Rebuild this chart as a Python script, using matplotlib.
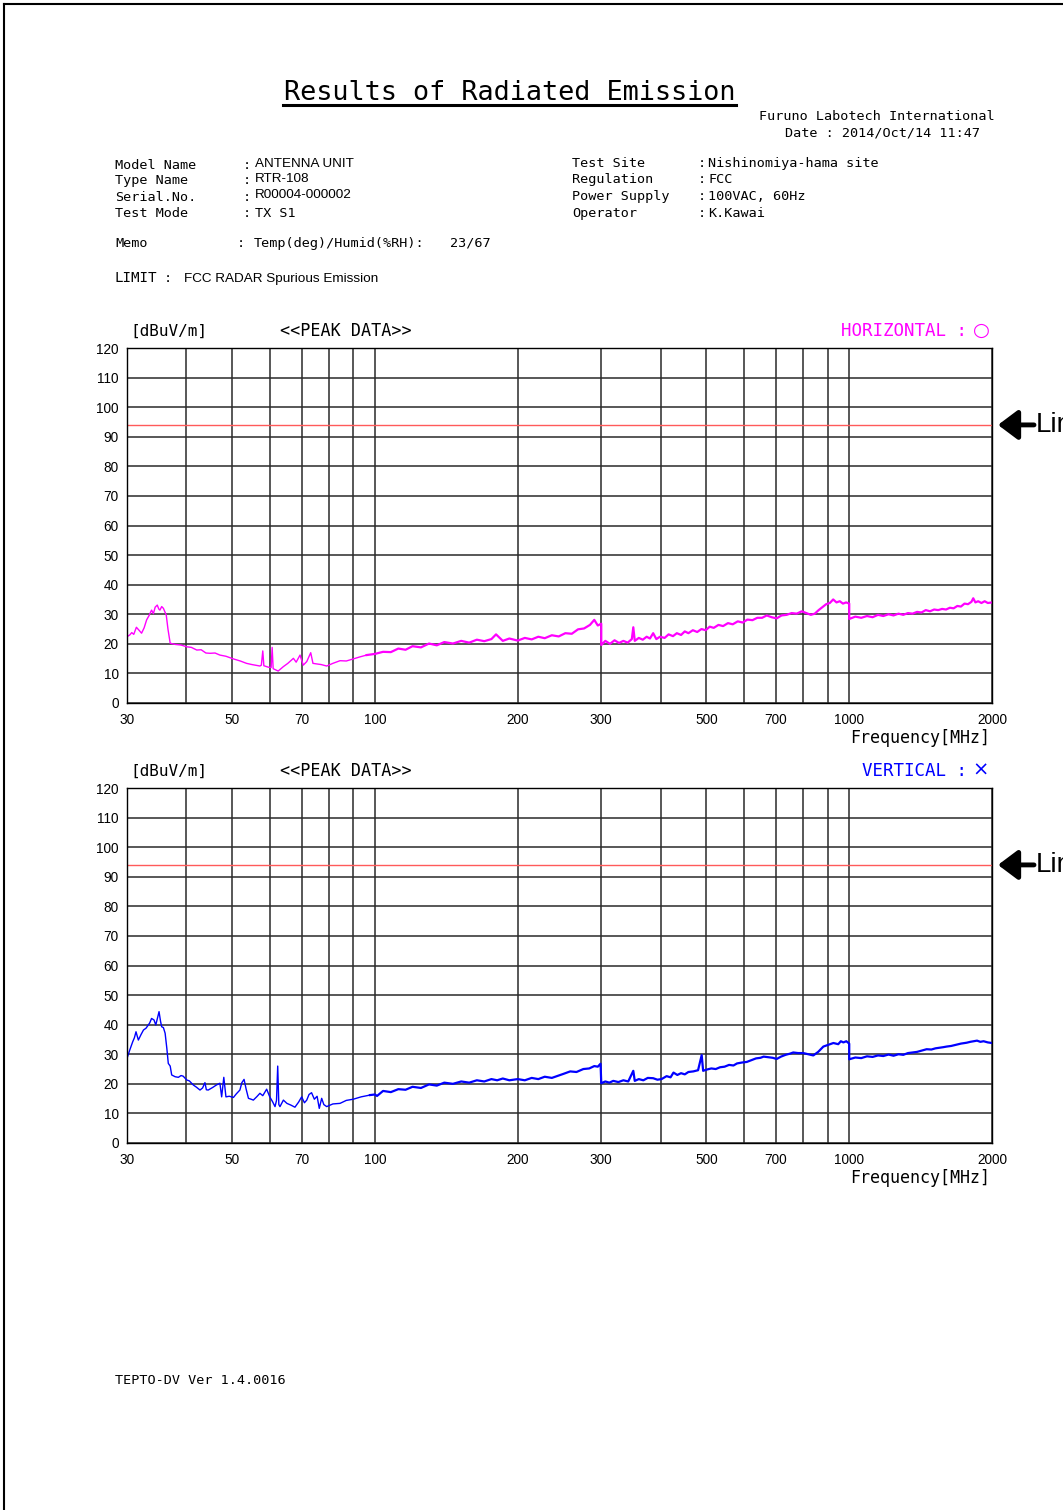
"""
Radiated emission report page: header block plus horizontal / vertical
peak scans against the FCC radar spurious emission limit.
"""

import matplotlib
matplotlib.use("Agg")
import matplotlib.pyplot as plt
from matplotlib.lines import Line2D
from matplotlib.ticker import NullFormatter

W, H = 1063, 1510

# Horizontal polarisation peak trace (MHz, dBuV/m)
h_freq = [
    30.0, 30.4, 30.7, 31.0, 31.4, 31.8, 32.2, 32.6, 33.0, 33.4, 33.8, 34.1,
    34.4, 34.75, 35.0, 35.2, 35.5, 35.8, 36.3, 36.6, 37.0, 37.9, 39.0, 40.1,
    41.0, 42.1, 43.0, 44.0, 44.9, 46.0, 47.1, 48.5, 50.3, 52.0, 53.6, 55.0,
    57.2, 57.6, 58.0, 58.3, 59.6, 60.4, 60.7, 61.0, 62.5, 64.1, 65.5, 67.3,
    68.2, 69.5, 70.6, 71.8, 73.2, 74.0, 75.4, 77.0, 79.1, 81.5, 84.4, 87.0,
    90.0, 93.0, 96.0,
    100, 104, 108, 112, 116, 120, 125, 130, 135, 140, 146, 152, 158, 164,
    170, 176, 180, 186, 192, 200, 207, 214, 221, 228, 236, 244, 252, 260,
    268, 276, 284, 290, 295, 300,
    300, 306, 313, 320, 327, 334, 341, 348, 350.5, 353, 360, 367, 374, 380,
    386, 392, 399, 408, 416, 425, 433, 442, 450, 458, 468, 478, 488, 498,
    508, 518, 530, 542, 555, 568, 582, 596, 610, 625, 640, 655, 670, 686,
    703, 720, 738, 756, 775, 794, 812, 830, 846, 862, 878, 894, 910, 925,
    940, 955, 970, 985, 1000,
    1000, 1030, 1060, 1090, 1120, 1150, 1180, 1210, 1240, 1270, 1300, 1330,
    1360, 1390, 1420, 1450, 1480, 1510, 1540, 1570, 1600, 1630, 1660, 1690,
    1720, 1750, 1780, 1810, 1826, 1845, 1870, 1900, 1930, 1960, 2000,
]
h_level = [
    22.4, 23.0, 23.8, 23.2, 25.6, 24.6, 23.6, 25.4, 28.1, 29.6, 31.4, 30.2,
    32.4, 33.1, 31.8, 31.4, 32.6, 32.0, 29.7, 25.0, 20.2, 19.8, 19.6, 19.0,
    18.8, 17.9, 18.0, 16.9, 16.8, 16.9, 16.2, 15.8, 14.9, 14.2, 13.4, 13.0,
    12.5, 12.8, 17.6, 12.6, 12.1, 12.0, 18.8, 11.6, 10.8, 12.3, 13.4, 15.1,
    13.8, 16.2, 12.8, 14.0, 17.0, 13.4, 13.2, 13.0, 12.5, 13.4, 14.3, 14.2,
    14.9, 15.6, 16.2,
    16.6, 17.3, 17.2, 18.4, 18.0, 19.2, 18.8, 20.1, 19.5, 20.6, 20.1, 21.0,
    20.4, 21.4, 20.9, 21.6, 23.2, 21.0, 21.8, 21.1, 22.0, 21.5, 22.4, 21.9,
    22.9, 22.5, 23.6, 23.4, 24.9, 25.2, 26.4, 28.1, 26.2, 26.8,
    19.6, 21.0, 20.0, 21.2, 20.3, 21.0, 20.4, 21.6, 25.6, 21.0, 22.0, 21.4,
    22.4, 21.8, 23.6, 21.6, 22.4, 22.0, 23.2, 22.6, 23.6, 23.0, 24.2, 23.6,
    24.6, 24.0, 25.0, 24.6, 25.8, 25.4, 26.4, 26.0, 27.0, 26.6, 27.6, 27.2,
    28.2, 28.0, 28.8, 28.8, 29.6, 29.0, 28.6, 29.6, 29.8, 30.4, 30.2, 31.0,
    30.4, 29.8, 30.2, 31.4, 32.4, 33.4, 33.8, 35.0, 34.0, 34.4, 33.6, 34.0,
    33.6,
    28.4, 29.2, 28.8, 29.4, 29.0, 29.8, 29.4, 30.0, 29.6, 30.2, 29.8, 30.4,
    30.2, 30.8, 30.6, 31.4, 31.0, 31.6, 31.4, 31.8, 31.6, 32.2, 32.0, 32.8,
    32.6, 33.6, 33.4, 34.2, 35.4, 34.0, 34.4, 33.8, 34.4, 33.8, 34.0,
]

# Vertical polarisation peak trace (MHz, dBuV/m)
v_freq = [
    30.0, 30.4, 30.84, 31.1, 31.34, 31.7, 32.1, 32.5, 32.9, 33.27, 33.5,
    33.8, 34.2, 34.5, 35.05, 35.3, 35.5, 35.8, 36.1, 36.4, 36.66, 37.0,
    37.27, 37.9, 38.5, 39.0, 39.4, 40.1, 40.6, 41.4, 42.0, 42.76, 43.3,
    43.8, 44.1, 44.5, 45.5, 46.3, 47.1, 47.5, 48.0, 48.5, 49.3, 50.3, 51.0,
    51.9, 52.4, 52.96, 53.5, 54.1, 54.8, 55.4, 56.3, 57.2, 58.0, 59.1, 60.0,
    60.8, 61.55, 62.0, 62.36, 62.7, 63.05, 64.1, 65.2, 66.5, 67.8, 69.0,
    70.05, 71.0, 71.8, 72.6, 73.5, 74.5, 75.5, 76.3, 77.2, 78.0, 79.1, 81.5,
    84.4, 87.0, 90.0, 93.5, 97.6,
    100, 101, 104, 108, 112, 116, 120, 125, 130, 135, 140, 146, 152, 158,
    164, 170, 176, 181, 186, 192, 200, 207, 214, 221, 228, 236, 244, 250,
    258, 266, 275, 283, 290, 295, 299,
    300, 306, 312, 318, 326, 334, 342, 350.5, 353, 360, 368, 376, 386, 394,
    402, 412, 420, 426, 434, 442, 450, 458, 469, 480, 488.5, 492, 500, 512,
    523, 534, 546, 558, 570, 580, 594, 608, 622, 636, 650, 660, 675, 690,
    703, 718, 734, 750, 762, 780, 800, 820, 840, 860, 882, 904, 926, 948,
    960, 972, 986, 1000,
    1000, 1030, 1060, 1090, 1120, 1150, 1180, 1210, 1240, 1270, 1300, 1330,
    1360, 1390, 1420, 1456, 1490, 1520, 1550, 1580, 1605, 1640, 1680, 1720,
    1769, 1800, 1830, 1860, 1890, 1920, 1960, 2000,
]
v_level = [
    28.6, 31.4, 34.2, 35.6, 37.6, 34.8, 36.6, 38.2, 38.8, 39.9, 40.6,
    42.1, 41.6, 39.9, 44.4, 41.2, 39.3, 39.0, 37.1, 32.0, 26.9, 26.0,
    23.0, 22.4, 22.2, 22.8, 22.6, 21.3, 21.0, 19.6, 18.9, 17.9, 18.6,
    20.4, 18.0, 17.9, 18.8, 19.6, 20.2, 15.6, 22.2, 15.6, 15.8, 15.4, 16.6,
    17.9, 20.4, 21.5, 18.2, 15.1, 14.8, 14.5, 15.6, 16.8, 16.0, 18.2, 15.6,
    14.0, 12.3, 14.4, 26.0, 13.0, 12.3, 14.5, 13.4, 12.8, 12.1, 13.8,
    15.6, 13.6, 14.5, 16.4, 17.0, 14.8, 15.8, 11.7, 15.1, 13.0, 12.3, 13.2,
    13.4, 14.4, 14.8, 15.6, 16.2,
    16.4, 15.9, 17.6, 17.2, 18.2, 18.0, 19.0, 18.6, 19.8, 19.4, 20.4, 20.0,
    20.8, 20.4, 21.2, 20.8, 21.6, 21.2, 21.8, 21.2, 21.6, 21.2, 22.0, 21.6,
    22.4, 22.0, 22.8, 23.4, 24.2, 24.0, 25.0, 25.2, 26.0, 25.8, 26.8,
    20.2, 20.8, 20.4, 21.0, 20.6, 21.2, 20.8, 24.4, 21.0, 21.6, 21.2, 22.0,
    21.9, 21.4, 21.6, 22.6, 22.2, 23.8, 23.0, 23.6, 23.2, 24.0, 24.2, 24.6,
    29.7, 24.4, 24.8, 25.2, 25.0, 25.6, 25.8, 26.4, 26.2, 26.9, 27.2, 27.4,
    28.0, 28.6, 28.8, 29.2, 29.0, 28.8, 28.4, 29.2, 29.8, 30.2, 30.6, 30.4,
    30.4, 30.0, 29.6, 30.8, 32.6, 33.2, 33.8, 33.4, 34.4, 34.0, 34.4, 33.6,
    28.3, 28.9, 28.7, 29.3, 29.1, 29.6, 29.4, 29.9, 29.5, 30.0, 29.8, 30.4,
    30.6, 30.8, 31.2, 31.7, 31.6, 32.0, 32.2, 32.4, 32.6, 32.8, 33.2, 33.6,
    33.9, 34.2, 34.4, 34.6, 34.2, 34.4, 34.0, 33.8,
]

limit_level = 94.0
x_ticks = [30, 50, 70, 100, 200, 300, 500, 700, 1000, 2000]
x_minor = [40, 60, 80, 90, 400, 600, 800, 900]
y_ticks = list(range(0, 130, 10))

GOTHIC = "DejaVu Sans Mono"
SANS = ["Liberation Sans", "DejaVu Sans"]
plt.rcParams["font.family"] = SANS

fig = plt.figure(figsize=(W / 100, H / 100), dpi=100)


def put(x, y, s, size=9.7, family=GOTHIC, va="baseline", **kw):
    """Place text using page pixel coordinates (origin top-left)."""
    fig.text(x / W, 1 - y / H, s, fontsize=size, family=family, va=va, **kw)


def hline(x0, x1, y, lw=1.5):
    fig.add_artist(Line2D([x0 / W, x1 / W], [1 - y / H, 1 - y / H],
                          color="black", lw=lw))


def scan_axes(top, freq, level, color, pol, mark):
    """One peak-scan panel with grid, limit line and limit marker."""
    ax = fig.add_axes([127 / W, 1 - (top + 355) / H, 865 / W, 355 / H])
    ax.set_xscale("log")
    ax.set_xlim(30, 2000)
    ax.set_ylim(0, 120)
    ax.set_xticks(x_ticks)
    ax.set_xticklabels([str(t) for t in x_ticks])
    ax.set_xticks(x_minor, minor=True)
    ax.xaxis.set_minor_formatter(NullFormatter())
    ax.set_yticks(y_ticks)
    ax.tick_params(which="both", length=0)
    ax.tick_params(axis="y", pad=6, labelsize=9.8)
    ax.tick_params(axis="x", pad=7, labelsize=9.8)
    ax.grid(which="both", color="#2a2a2a", lw=1.1)
    ax.set_axisbelow(True)
    for sp in ax.spines.values():
        sp.set_color("black")
        sp.set_linewidth(1.0)

    ax.axhline(limit_level, color="#ff5a5a", lw=1.0)
    # sparse low band drawn thin, dense upper sweep a little heavier
    split = next(i for i, f in enumerate(freq) if f >= 96)
    ax.plot(freq[:split + 1], level[:split + 1], color=color, lw=1.0)
    ax.plot(freq[split:], level[split:], color=color, lw=1.6)

    # header row above the panel
    put(130, top - 12, "[dBuV/m]", size=11.5)
    put(280, top - 12, "<<PEAK DATA>>", size=12.1)
    put(967, top - 12, pol + " :", size=12.6, ha="right", color=color)
    put(981, top - 18, mark, size=14, family="DejaVu Sans", ha="center",
        va="center", color=color)
    put(990, top + 395, "Frequency[MHz]", size=12, ha="right")

    # limit marker on the right margin
    ly = top + (120 - limit_level) / 120 * 355
    ax.annotate("", xy=(998, H - ly), xycoords="figure pixels",
                xytext=(1034, H - ly), textcoords="figure pixels",
                arrowprops=dict(arrowstyle="-|>,head_length=0.6,head_width=0.45",
                                lw=3.5, color="black", mutation_scale=20,
                                shrinkA=0, shrinkB=0),
                annotation_clip=False)
    put(1036, ly, "Limit", size=20, family=SANS, va="center")
    return ax


# page frame
fig.add_artist(Line2D([3.5 / W, 3.5 / W], [0, 1 - 3.5 / H], color="black", lw=1.5))
hline(3.5, W, 3.5)

# title
put(509.5, 100, "Results of Radiated Emission", size=19.4, ha="center")
hline(283, 736, 105, lw=2.2)

put(759, 120.5, "Furuno Labotech International")
put(785, 136.5, "Date : 2014/Oct/14 11:47")

# equipment block
left_rows = [
    ("Model Name", "ANTENNA UNIT", 169, 166.7, SANS),
    ("Type Name", "RTR-108", 184.3, 181.7, SANS),
    ("Serial.No.", "R00004-000002", 200.7, 197.7, SANS),
    ("Test Mode", "TX S1", 217, 217, GOTHIC),
]
for label, value, y, vy, fam in left_rows:
    put(115, y, label)
    put(243, y, ":")
    put(255, vy, value, family=fam)

right_rows = [
    ("Test Site", "Nishinomiya-hama site", 166.7),
    ("Regulation", "FCC", 183.3),
    ("Power Supply", "100VAC, 60Hz", 200),
    ("Operator", "K.Kawai", 216.7),
]
for label, value, y in right_rows:
    put(572, y, label)
    put(698, y, ":")
    put(708, y, value)

put(115, 246.7, "Memo")
put(237, 246.7, ":")
put(254, 246.7, "Temp(deg)/Humid(%RH):")
put(450, 246.7, "23/67")

put(115, 282.3, "LIMIT", size=10.2)
put(164, 282.3, ":")
put(184, 281.7, "FCC RADAR Spurious Emission", family=SANS)

scan_axes(348, h_freq, h_level, "#ff00ff", "HORIZONTAL", "\u25cb")
scan_axes(788, v_freq, v_level, "#0000ff", "VERTICAL", "\u00d7")

put(115, 1384, "TEPTO-DV Ver 1.4.0016")

fig.savefig("out.png", dpi=100)
